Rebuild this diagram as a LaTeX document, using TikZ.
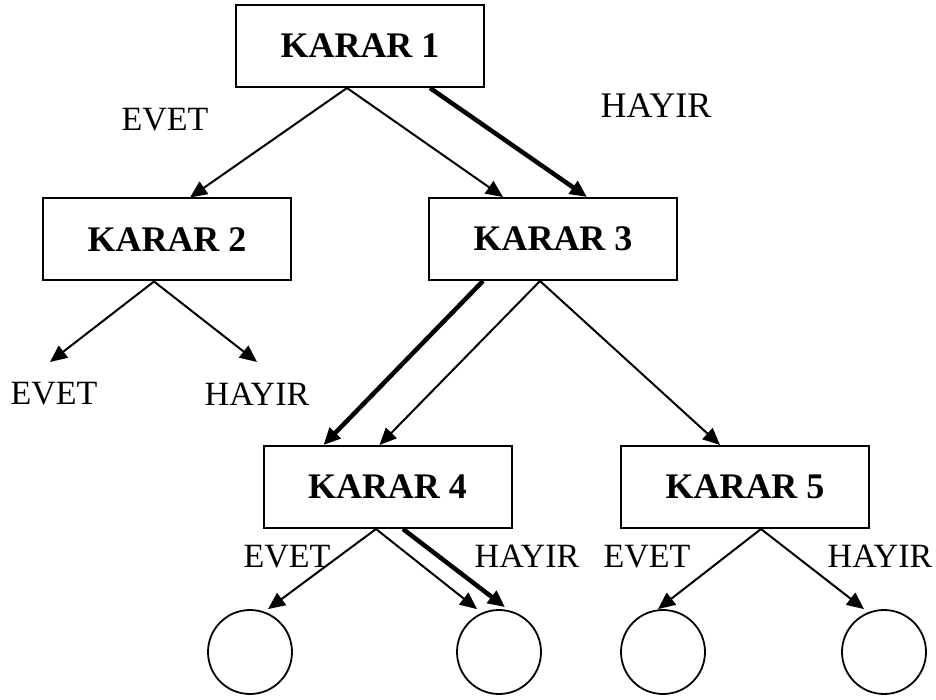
\documentclass[tikz,border=0pt]{standalone}
\usepackage{fontspec}
\setmainfont{Liberation Serif}
\usetikzlibrary{arrows.meta}
\tikzset{
  karar/.style = {draw, line width=2pt, minimum width=248pt, minimum height=82pt,
    inner sep=0pt, font=\fontsize{36}{42}\selectfont\bfseries},% karar kutusu
  yaprak/.style = {draw, circle, line width=1.8pt, minimum size=84pt, inner sep=0pt},% bos yaprak
  etiket/.style = {inner sep=0pt, font=\fontsize{34}{40}\selectfont},% EVET / HAYIR
  ince/.style = {->, line width=2pt},
  kalin/.style = {->, line width=4.5pt}
}

\begin{document}
\begin{tikzpicture}[x=1pt, y=-1pt, >={Triangle[length=17pt, width=15pt]}]
  \useasboundingbox (0,0) rectangle (936,700);
  % kutular
  \node [karar] (k1) at (360,46) {KARAR 1};
  \node [karar] (k2) at (167,239.5) {KARAR 2};
  \node [karar] (k3) at (553,239) {KARAR 3};
  \node [karar] (k4) at (387.5,487) {KARAR 4};
  \node [karar] (k5) at (745,487) {KARAR 5};
  % yapraklar
  \node [yaprak] (c1) at (250,652) {};
  \node [yaprak] (c2) at (499,652) {};
  \node [yaprak] (c3) at (663,652) {};
  \node [yaprak] (c4) at (884,652) {};
  % etiketler
  \node [etiket] (ev1) at (165,120) {EVET};
  \node [etiket, font=\fontsize{36}{42}\selectfont] (hy1) at (656,105.5) {HAYIR};
  \node [etiket] (ev2) at (54,394) {EVET};
  \node [etiket] (hy2) at (257,394) {HAYIR};
  \node [etiket] (ev4) at (287,556.5) {EVET};
  \node [etiket] (hy4) at (527,556.5) {HAYIR};
  \node [etiket] (ev5) at (647,556.5) {EVET};
  \node [etiket] (hy5) at (880,556.5) {HAYIR};
  \coordinate (u1) at (50,362);
  \coordinate (u2) at (257,362);
  % oklar
  \draw [ince] ([xshift=-13pt]k1.south) -- ([xshift=23pt]k2.north);
  \draw [ince] ([xshift=-13pt]k1.south) -- ([xshift=-50pt]k3.north);
  \draw [kalin] ([xshift=70pt]k1.south) -- ([xshift=34pt]k3.north);
  \draw [ince] ([xshift=-13pt]k2.south) -- (u1);
  \draw [ince] ([xshift=-13pt]k2.south) -- (u2);
  \draw [kalin] ([xshift=-70pt]k3.south) -- ([xshift=-64pt]k4.north);
  \draw [ince] ([xshift=-13pt]k3.south) -- ([xshift=-8pt]k4.north);
  \draw [ince] ([xshift=-13pt]k3.south) -- ([xshift=-25pt]k5.north);
  \draw [ince] ([xshift=-11.5pt]k4.south) -- ([xshift=18pt]c1.north);
  \draw [ince] ([xshift=-11.5pt]k4.south) -- ([xshift=-22pt]c2.north);
  \draw [kalin] ([xshift=15.5pt]k4.south) -- ([xshift=6pt,yshift=2pt]c2.north);
  \draw [ince] ([xshift=16pt]k5.south) -- ([xshift=-5pt]c3.north);
  \draw [ince] ([xshift=16pt]k5.south) -- ([xshift=-20pt]c4.north);
\end{tikzpicture}
\end{document}
